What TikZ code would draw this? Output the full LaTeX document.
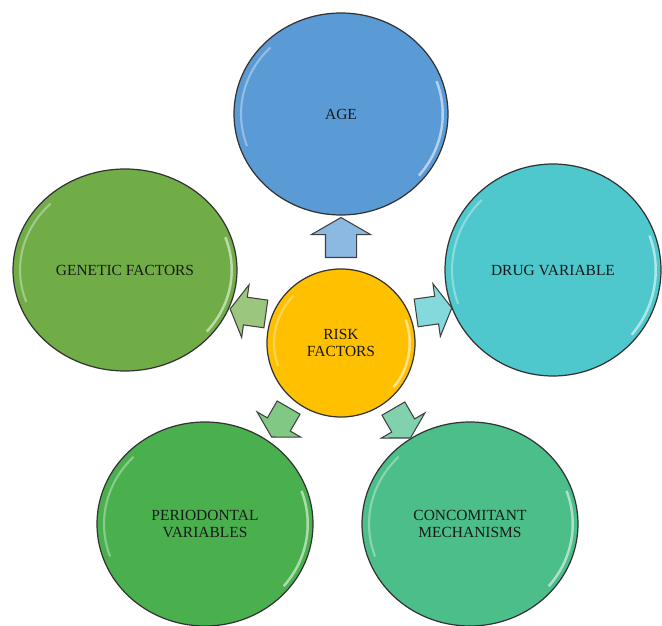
\documentclass[tikz,border=0pt]{standalone}
\usepackage{fontspec}
\setmainfont{Liberation Serif}
\usetikzlibrary{shapes.geometric,shapes.arrows,calc}
\definecolor{ageblue}{RGB}{91,155,213}
\definecolor{drugcyan}{RGB}{78,200,204}
\definecolor{genegreen}{RGB}{112,173,71}
\definecolor{periogreen}{RGB}{74,176,78}
\definecolor{concgreen}{RGB}{76,190,138}
\definecolor{riskgold}{RGB}{255,192,0}
\begin{document}
\begin{tikzpicture}[inner sep=0pt,outer sep=0pt,
bubble/.style={draw=black!80,ellipse,line width=0.7pt,fill=#1,align=center,
  font=\fontsize{8.8}{10}\selectfont,text=black!90,
  path picture={
    \draw[white,opacity=.55,line width=1.4pt]
      let \p1=(path picture bounding box.north east),\p2=(path picture bounding box.center) in
      ($(\p2)+(-40:{\x1-\x2-3pt} and {\y1-\y2-3pt})$) arc[start angle=-40,end angle=20,x radius=\x1-\x2-3pt,y radius=\y1-\y2-3pt];
    \draw[white,opacity=.35,line width=1.2pt]
      let \p1=(path picture bounding box.north east),\p2=(path picture bounding box.center) in
      ($(\p2)+(135:{\x1-\x2-4pt} and {\y1-\y2-4pt})$) arc[start angle=135,end angle=200,x radius=\x1-\x2-4pt,y radius=\y1-\y2-4pt];
  }},
pointer/.style={draw=black!75,line width=0.6pt,single arrow,single arrow tip angle=120,
  single arrow head extend=0.28cm,inner sep=0.3cm,minimum height=0.64cm,fill=#1!70!white,
  transform shape}]
\useasboundingbox (0,0) rectangle (13.24,12.52);
% centre and the five factors
\draw (6.82,5.66) node[bubble=riskgold,circle,minimum size=2.96cm] (risk) {RISK\\FACTORS};
\draw (6.82,10.24) node[bubble=ageblue,minimum width=4.28cm,minimum height=4.04cm] (age) {AGE};
\draw (11.06,7.12) node[bubble=drugcyan,minimum width=4.32cm,minimum height=4.24cm] (drug) {DRUG VARIABLE};
\draw (2.50,7.12) node[bubble=genegreen,minimum width=4.48cm,minimum height=4.04cm] (gene) {GENETIC FACTORS};
\draw (4.10,2.04) node[bubble=periogreen,minimum width=4.32cm,minimum height=4.08cm] (perio) {PERIODONTAL\\VARIABLES};
\draw (9.40,2.04) node[bubble=concgreen,minimum width=4.32cm,minimum height=4.08cm] (conc) {CONCOMITANT\\MECHANISMS};
% block arrows out of the centre
\path ($(risk)+(0,2.02)$) node[pointer=ageblue,rotate=90] (toage) {};
\path ($(risk)+(1.78,0.64)$) node[pointer=drugcyan,scale=0.9,rotate=8] (todrug) {};
\path ($(risk)+(-1.78,0.62)$) node[pointer=genegreen,scale=0.9,rotate=172] (togene) {};
\path ($(risk)+(-1.18,-1.52)$) node[pointer=periogreen,scale=0.85,rotate=240] (toperio) {};
\path ($(risk)+(1.18,-1.54)$) node[pointer=concgreen,scale=0.85,rotate=300] (toconc) {};
\end{tikzpicture}
\end{document}
